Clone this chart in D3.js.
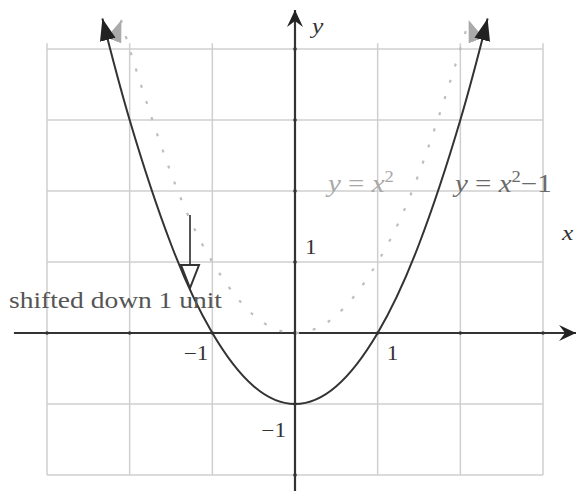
<!DOCTYPE html>
<html>
<head>
<meta charset="utf-8">
<script src="https://cdn.jsdelivr.net/npm/d3@7"></script>
<style>
  body { margin: 0; background: #fff; }
</style>
</head>
<body>
<svg id="chart" width="576" height="491"></svg>
<script>
// grid lines (data units)
var gridX = [-3, -2, -1, 0, 1, 2, 3]
var gridY = [-2, -1, 0, 1, 2, 3, 4]
var xTicks = [-1, 1]
var yTicks = [-1, 1]

// y = x^2 (dotted, gray)
var baseX = [-2.1, -2, -1.5, -1, -0.5, 0, 0.5, 1, 1.5, 2, 2.1]
var baseY = [4.41, 4, 2.25, 1, 0.25, 0, 0.25, 1, 2.25, 4, 4.41]

// y = x^2 - 1 (solid, dark)
var shiftX = [-2.33, -2, -1.5, -1, -0.5, 0, 0.5, 1, 1.5, 2, 2.33]
var shiftY = [4.43, 3, 1.25, 0, -0.75, -1, -0.75, 0, 1.25, 3, 4.43]

const FONT = 'Liberation Serif'
const svg = d3.select('#chart')

var x = d3.scaleLinear().domain([-3, 3]).range([47, 543])
var y = d3.scaleLinear().domain([-2, 4]).range([475, 49])

var defs = svg.append('defs')
function marker(id, color, path, w, h) {
    defs.append('marker')
        .attr('id', id)
        .attr('viewBox', '-' + w + ' -' + h / 2 + ' ' + w + ' ' + h)
        .attr('refX', 0).attr('refY', 0)
        .attr('markerUnits', 'userSpaceOnUse')
        .attr('markerWidth', w).attr('markerHeight', h)
        .attr('orient', 'auto-start-reverse')
        .append('path')
        .attr('d', path)
        .attr('fill', color)
}
marker('axisHead', '#222', 'M0,0 L-17,-8 L-11,0 L-17,8 Z', 18, 18)
marker('darkHead', '#222', 'M0,0 L-22,-8 L-22,8 Z', 22, 18)
marker('grayHead', '#aaa', 'M0,0 L-22,-8 L-22,8 Z', 22, 18)

// grid
svg.append('g').selectAll('line')
    .data(gridX)
    .enter().append('line')
    .attr('x1', d => x(d)).attr('x2', d => x(d))
    .attr('y1', y(4.08)).attr('y2', y(-2))
    .attr('stroke', '#cfcfcf').attr('stroke-width', 1.5)
svg.append('g').selectAll('line')
    .data(gridY)
    .enter().append('line')
    .attr('y1', d => y(d)).attr('y2', d => y(d))
    .attr('x1', x(-3)).attr('x2', x(3))
    .attr('stroke', '#cfcfcf').attr('stroke-width', 1.5)

// axes
svg.append('line')
    .attr('x1', x(-3.4)).attr('x2', x(3.4))
    .attr('y1', y(0)).attr('y2', y(0))
    .attr('stroke', '#333').attr('stroke-width', 2.2)
    .attr('marker-end', 'url(#axisHead)')
svg.append('line')
    .attr('x1', x(0)).attr('x2', x(0))
    .attr('y1', y(-2.25)).attr('y2', y(4.55))
    .attr('stroke', '#333').attr('stroke-width', 2.2)
    .attr('marker-end', 'url(#axisHead)')

// little dots where grid meets axes
svg.append('g').selectAll('circle')
    .data(gridX)
    .enter().append('circle')
    .attr('cx', d => x(d)).attr('cy', y(0)).attr('r', 1.8).attr('fill', '#333')
svg.append('g').selectAll('circle')
    .data(gridY)
    .enter().append('circle')
    .attr('cx', x(0)).attr('cy', d => y(d)).attr('r', 1.8).attr('fill', '#333')

var line = d3.line().x(d => x(d[0])).y(d => y(d[1])).curve(d3.curveNatural)

// dotted y = x^2
svg.append('path')
    .attr('d', line(d3.zip(baseX, baseY)))
    .attr('fill', 'none')
    .attr('stroke', '#bdbdbd').attr('stroke-width', 2.2)
    .attr('stroke-dasharray', '3,14')
    .attr('marker-start', 'url(#grayHead)')
    .attr('marker-end', 'url(#grayHead)')

// solid y = x^2 - 1
svg.append('path')
    .attr('d', line(d3.zip(shiftX, shiftY)))
    .attr('fill', 'none')
    .attr('stroke', '#333').attr('stroke-width', 2)
    .attr('marker-start', 'url(#darkHead)')
    .attr('marker-end', 'url(#darkHead)')

// stretched text helper (picture is wider than tall)
function label(px, py, color, size, anchor) {
    var g = svg.append('g').attr('transform', 'translate(' + px + ',' + py + ') scale(1.16,1)')
    return g.append('text')
        .style('font-family', FONT)
        .attr('fill', color)
        .attr('font-size', size)
        .attr('text-anchor', anchor || 'start')
}

// tick labels
xTicks.forEach(function (t) {
    var tx = t < 0 ? x(t) - 4 : x(t) + 9
    label(tx, 360, '#333', 20, t < 0 ? 'end' : 'start').text(t < 0 ? '\u2212' + Math.abs(t) : t)
})
yTicks.forEach(function (t) {
    if (t < 0) label(x(0) - 9, y(t) + 33, '#333', 20, 'end').text('\u2212' + Math.abs(t))
    else label(x(0) + 10, y(t) - 8, '#333', 20, 'start').text(t)
})

// axis names
label(562, 240, '#333', 22).style('font-style', 'italic').text('x')
label(312, 33, '#333', 22).style('font-style', 'italic').text('y')

// equation labels
var t1 = label(328, 192, '#a8a8a8', 25)
t1.append('tspan').style('font-style', 'italic').text('y')
t1.append('tspan').text(' = ')
t1.append('tspan').style('font-style', 'italic').text('x')
t1.append('tspan').attr('font-size', 16).attr('dy', -10).text('2')

var t2 = label(455, 192, '#6a6a6a', 25)
t2.append('tspan').style('font-style', 'italic').text('y')
t2.append('tspan').text(' = ')
t2.append('tspan').style('font-style', 'italic').text('x')
t2.append('tspan').attr('font-size', 16).attr('dy', -10).text('2')
t2.append('tspan').attr('dy', 10).text('\u22121')

// "shifted down" note with hollow arrow
svg.append('text')
    .attr('x', 9).attr('y', 308)
    .style('font-family', FONT)
    .attr('fill', '#555')
    .attr('font-size', 23)
    .attr('textLength', 213)
    .attr('lengthAdjust', 'spacingAndGlyphs')
    .text('shifted down 1 unit')
svg.append('line')
    .attr('x1', 190).attr('x2', 190).attr('y1', 215).attr('y2', 265)
    .attr('stroke', '#555').attr('stroke-width', 2)
svg.append('path')
    .attr('d', 'M181,265 L199,265 L190,288 Z')
    .attr('fill', '#fff').attr('stroke', '#333').attr('stroke-width', 2)
</script>
</body>
</html>
